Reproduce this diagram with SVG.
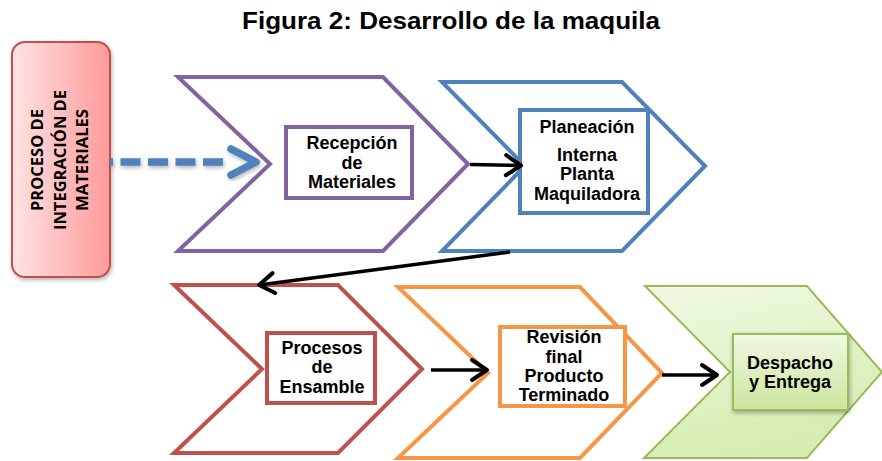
<svg xmlns="http://www.w3.org/2000/svg" width="882" height="461" viewBox="0 0 882 461">
<defs>
<linearGradient id="gRed" x1="0" y1="0" x2="1" y2="0">
<stop offset="0" stop-color="#ffe3e3"/>
<stop offset="1" stop-color="#ff9a9a"/>
</linearGradient>
<linearGradient id="gGreen" x1="0" y1="0" x2="0.3" y2="1">
<stop offset="0" stop-color="#f0f9e4"/>
<stop offset="1" stop-color="#d6ecb0"/>
</linearGradient>
<linearGradient id="gGreenBox" x1="0" y1="0" x2="0" y2="1">
<stop offset="0" stop-color="#f0f9e2"/>
<stop offset="1" stop-color="#cbe59f"/>
</linearGradient>
<filter id="sh" x="-20%" y="-20%" width="140%" height="140%">
<feDropShadow dx="1" dy="2" stdDeviation="2" flood-color="#000" flood-opacity="0.3"/>
</filter>
<marker id="ah" markerUnits="userSpaceOnUse" markerWidth="30" markerHeight="30" viewBox="-20 -15 30 30" refX="0" refY="0" orient="auto" overflow="visible">
<path d="M-15,-10 L0,0 L-15,10" fill="none" stroke="#000" stroke-width="4" stroke-linecap="round" stroke-linejoin="round"/>
</marker>
</defs>
<style>
.t{font-family:"Liberation Sans",Arial,sans-serif;font-weight:bold;font-size:18px;fill:#000;text-anchor:middle}
.chev{fill:none;stroke-width:4;stroke-linejoin:miter}
.box{fill:#fff;stroke-width:4}
.side{font-family:"Open Sans","DejaVu Sans",sans-serif;font-weight:bold;font-size:16px;fill:#000;text-anchor:middle}
.conn{fill:none;stroke:#000;stroke-width:3.5;marker-end:url(#ah)}
</style>
<rect width="882" height="461" fill="#fff"/>
<text x="451" y="29" font-family="'Liberation Sans',Arial,sans-serif" font-weight="bold" font-size="24.5" text-anchor="middle" textLength="418" lengthAdjust="spacingAndGlyphs">Figura 2: Desarrollo de la maquila</text>

<g id="proceso">
<rect x="12" y="42" width="98" height="235" rx="13" fill="url(#gRed)" stroke="#c0504d" stroke-width="2" filter="url(#sh)"/>
<text class="side" transform="translate(43,160) rotate(-90)" textLength="102" lengthAdjust="spacingAndGlyphs">PROCESO DE</text>
<text class="side" transform="translate(66,160) rotate(-90)" textLength="140" lengthAdjust="spacingAndGlyphs">INTEGRACIÓN DE</text>
<text class="side" transform="translate(88,160) rotate(-90)" textLength="102" lengthAdjust="spacingAndGlyphs">MATERIALES</text>
</g>

<g id="recepcion">
<polygon class="chev" stroke="#8064a2" points="178,77 383,77 468,164 383,251 178,251 270,164"/>
<rect class="box" stroke="#8064a2" x="286" y="127" width="126" height="71"/>
<text class="t" x="352" y="149">Recepción</text>
<text class="t" x="352" y="168.5">de</text>
<text class="t" x="352" y="188">Materiales</text>
</g>

<g id="planeacion">
<polygon class="chev" stroke="#4f81bd" points="442,82 622,82 705,166 622,251 442,251 525,166"/>
<rect class="box" stroke="#4f81bd" x="520" y="110" width="128" height="103"/>
<text class="t" x="587" y="133">Planeación</text>
<text class="t" x="587" y="160.5">Interna</text>
<text class="t" x="587" y="180">Planta</text>
<text class="t" x="587" y="199.5">Maquiladora</text>
</g>

<g id="ensamble">
<polygon class="chev" stroke="#c0504d" points="174,285 338,285 422,369 338,453 174,453 262,369"/>
<rect class="box" stroke="#c0504d" x="267" y="333" width="108" height="70"/>
<text class="t" x="322" y="354">Procesos</text>
<text class="t" x="322" y="373">de</text>
<text class="t" x="322" y="392.5">Ensamble</text>
</g>

<g id="revision">
<polygon class="chev" stroke="#f79646" points="398,287 580,287 662,373 580,458 398,458 488,373"/>
<rect class="box" stroke="#f79646" x="500" y="327" width="125" height="79"/>
<text class="t" x="564" y="343">Revisión</text>
<text class="t" x="564" y="362.5">final</text>
<text class="t" x="564" y="381.5">Producto</text>
<text class="t" x="564" y="401">Terminado</text>
</g>

<g id="despacho">
<polygon fill="url(#gGreen)" stroke="#9bbb59" stroke-width="2" points="645,286 807,286 882,372 807,458 644,458 730,372"/>
<rect x="733" y="334" width="115" height="76" fill="url(#gGreenBox)" stroke="#9bbb59" stroke-width="2" filter="url(#sh)"/>
<text class="t" x="790" y="368.5">Despacho</text>
<text class="t" x="790" y="387.5">y Entrega</text>
</g>

<g id="connectors">
<g filter="url(#sh)">
<line x1="110" y1="162" x2="223" y2="162" stroke="#4f81bd" stroke-width="7.5" stroke-dasharray="20 7.5" stroke-dashoffset="17"/>
<path d="M231,149 L256,162 L231,175" fill="none" stroke="#4f81bd" stroke-width="7.5" stroke-linecap="round" stroke-linejoin="round"/>
</g>
<line class="conn" x1="470" y1="164.5" x2="521" y2="165.5"/>
<line class="conn" x1="510" y1="252" x2="259" y2="285"/>
<line class="conn" x1="431" y1="370" x2="487" y2="370"/>
<line class="conn" x1="662" y1="375" x2="717" y2="375"/>
</g>
</svg>
